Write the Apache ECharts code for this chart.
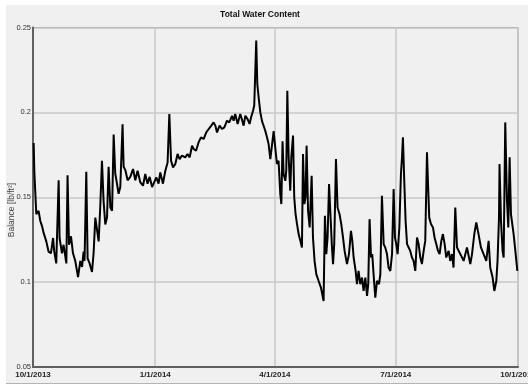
<!DOCTYPE html>
<html>
<head>
<meta charset="utf-8">
<script src="https://cdn.jsdelivr.net/npm/echarts@6/dist/echarts.min.js"></script>
<style>html,body{margin:0;padding:0;background:#fff;}#c{width:528px;height:385px;}</style>
</head>
<body>
<div id="c"></div>
<script>
// Days since 10/1/2013
const days = [0.5,1.0,2.5,4.2,5.5,6.8,8.0,10.0,11.7,13.5,15.1,16.0,17.5,19.3,20.0,21.8,23.0,25.1,26.0,27.1,28.6,30.1,31.8,33.9,35.6,36.9,38.1,38.8,40.1,41.1,42.6,44.4,45.6,46.9,48.2,49.4,50.6,51.9,53.1,54.4,55.7,56.9,58.2,59.5,60.7,61.9,63.2,64.4,65.7,67.4,68.2,69.5,71.2,73.2,75.3,77.0,78.7,80.8,82.8,84.5,86.2,87.8,89.6,90.8,92.8,94.5,95.8,97.8,99.6,101.3,102.6,103.9,105.4,107.1,108.8,110.3,112.1,114.6,116.3,117.9,119.7,120.9,122.7,124.6,126.4,128.4,130.4,132.2,134.2,135.9,137.2,138.5,140.4,142.2,144.0,146.0,147.7,149.8,151.0,152.2,154.0,156.0,157.5,158.5,159.8,161.5,163.0,164.1,165.6,166.5,168.0,168.8,169.8,171.1,172.3,173.5,174.8,176.1,177.3,178.6,179.9,181.1,182.3,183.6,184.8,186.1,186.9,187.8,188.6,189.9,190.6,191.4,192.4,193.6,194.4,195.7,196.6,197.6,198.7,199.9,201.2,202.4,203.2,204.2,205.1,205.9,207.0,208.2,209.7,210.7,211.9,213.2,214.9,216.7,218.7,219.7,220.7,221.7,222.8,225.0,225.8,226.7,228.0,229.2,230.7,232.0,233.3,234.5,236.3,237.8,239.3,240.3,241.3,242.8,243.8,245.0,246.3,247.6,248.8,250.1,251.4,252.3,253.3,254.4,255.3,256.3,257.6,258.9,260.4,261.4,262.6,263.9,265.1,266.4,267.6,268.9,270.2,271.4,272.4,273.4,274.4,275.7,276.9,277.7,278.4,279.4,280.4,281.5,282.7,283.9,285.2,286.4,287.7,289.0,290.2,291.5,292.7,294.0,295.2,296.5,297.3,298.2,299.5,301.0,302.2,303.5,304.8,306.0,307.3,308.5,309.8,311.0,312.8,314.0,315.3,316.5,317.8,319.1,321.6,324.1,326.6,329.1,330.4,332.1,333.6,335.3,337.1,339.1,341.1,342.9,344.1,345.9,347.2,348.7,349.6,350.7,351.1,352.2,353.4,354.2,355.4,356.7,357.7,358.7,359.7,361.7,363.0,364.5];
// Balance [lb/ft²]
const balance = [0.182,0.165,0.140,0.142,0.136,0.133,0.129,0.124,0.118,0.117,0.126,0.118,0.111,0.160,0.126,0.117,0.122,0.111,0.163,0.122,0.127,0.117,0.1125,0.103,0.1125,0.109,0.118,0.1125,0.165,0.114,0.111,0.106,0.117,0.138,0.139,0.124,0.144,0.1715,0.148,0.134,0.138,0.168,0.144,0.142,0.187,0.164,0.158,0.152,0.156,0.193,0.168,0.166,0.160,0.162,0.1666,0.160,0.1656,0.1587,0.1568,0.1637,0.158,0.162,0.156,0.1568,0.1617,0.158,0.1646,0.158,0.1656,0.1705,0.199,0.1715,0.1676,0.1696,0.1755,0.1725,0.1745,0.1735,0.1755,0.1735,0.1804,0.1784,0.1774,0.1823,0.1853,0.1843,0.1882,0.1902,0.1922,0.1941,0.1922,0.1882,0.1922,0.1902,0.1912,0.1951,0.1941,0.198,0.1951,0.199,0.1932,0.199,0.1951,0.1922,0.198,0.196,0.1932,0.197,0.201,0.204,0.2423,0.2168,0.2089,0.200,0.195,0.196,0.1892,0.1853,0.1814,0.1725,0.181,0.189,0.1794,0.1696,0.1715,0.1519,0.146,0.183,0.1637,0.1597,0.1656,0.2128,0.1735,0.1538,0.1735,0.1863,0.150,0.140,0.1342,0.1283,0.1243,0.1204,0.1755,0.146,0.150,0.1804,0.142,0.1322,0.1627,0.1263,0.1125,0.1047,0.1008,0.0968,0.0889,0.1391,0.1165,0.1263,0.1578,0.1204,0.1106,0.1224,0.1725,0.144,0.140,0.1342,0.1263,0.1184,0.1106,0.1165,0.1302,0.1243,0.1145,0.1066,0.0988,0.1066,0.0988,0.1027,0.0948,0.1027,0.0919,0.0988,0.1371,0.1145,0.1165,0.1047,0.0909,0.1008,0.0988,0.1047,0.1509,0.1224,0.1204,0.1165,0.1086,0.1066,0.1165,0.1548,0.1263,0.1224,0.1165,0.1322,0.1637,0.1735,0.1853,0.1597,0.1361,0.1224,0.1204,0.1184,0.1145,0.1125,0.1066,0.1263,0.1224,0.1145,0.1106,0.1184,0.1243,0.1765,0.1578,0.138,0.1342,0.1322,0.1263,0.1224,0.1184,0.1165,0.1243,0.1283,0.1224,0.1145,0.1184,0.1125,0.1165,0.1086,0.144,0.1204,0.1165,0.1125,0.1204,0.1106,0.1165,0.1283,0.1351,0.1283,0.1204,0.1165,0.1125,0.1243,0.1086,0.1027,0.0948,0.1008,0.1125,0.138,0.1696,0.1361,0.1184,0.1145,0.1941,0.148,0.1322,0.1735,0.140,0.1283,0.1184,0.1066];
const xTickDays = [0, 92, 182, 273, 365];
const xTickLabels = ['10/1/2013', '1/1/2014', '4/1/2014', '7/1/2014', '10/1/2014'];
const yTicks = [0.05, 0.1, 0.15, 0.2, 0.25];
const chartTitle = 'Total Water Content';
const yTitle = 'Balance [lb/ft\u00b2]';

const FONT = '"Liberation Sans", Arial, sans-serif';
const chart = echarts.init(document.getElementById('c'), null, {renderer: 'canvas'});
const seriesData = days.map((d, i) => [d, balance[i]]);

chart.setOption({
  animation: false,
  backgroundColor: '#ffffff',
  graphic: [
    {type: 'rect', z: -10, shape: {x: 6, y: 5, width: 522, height: 378}, style: {fill: '#f0f0f0'}},
    {type: 'line', z: -9, shape: {x1: 6, y1: 383.5, x2: 528, y2: 383.5}, style: {stroke: '#b4b4b4', lineWidth: 1}},
    {type: 'text', x: 260, y: 15, style: {text: chartTitle, font: 'bold 8.5px ' + FONT, fill: '#111', align: 'center', verticalAlign: 'middle'}},
    {type: 'text', x: 12, y: 210, rotation: Math.PI / 2, style: {text: yTitle, font: '8.5px ' + FONT, fill: '#444', align: 'center', verticalAlign: 'middle'}}
  ],
  grid: {left: 33, right: 10, top: 27.5, bottom: 18, containLabel: false, outerBoundsMode: 'none',
         show: true, borderColor: '#8a8a8a', borderWidth: 1, backgroundColor: 'transparent'},
  xAxis: {
    type: 'value', min: 0, max: 365,
    axisLine: {show: true, lineStyle: {color: '#606060', width: 2}},
    axisTick: {show: false, customValues: xTickDays},
    splitLine: {show: true, lineStyle: {color: '#c9c9c9', width: 1.5}},
    axisLabel: {
      customValues: xTickDays, margin: 4, hideOverlap: false,
      formatter: v => xTickLabels[xTickDays.indexOf(v)] || '',
      fontFamily: FONT, fontSize: 8, fontWeight: 'bold', color: '#222'
    }
  },
  yAxis: {
    type: 'value', min: 0.05, max: 0.25, interval: 0.05,
    axisLine: {show: true, lineStyle: {color: '#606060', width: 2}},
    axisTick: {show: false},
    splitLine: {show: true, lineStyle: {color: '#c9c9c9', width: 1.5}},
    axisLabel: {
      customValues: yTicks, margin: 2,
      formatter: v => String(+v.toFixed(2)),
      fontFamily: FONT, fontSize: 7.5, color: '#333'
    }
  },
  series: [{
    type: 'line', data: seriesData, showSymbol: false, symbol: 'none',
    lineStyle: {color: '#000', width: 2}, z: 5
  }]
});
</script>
</body>
</html>
